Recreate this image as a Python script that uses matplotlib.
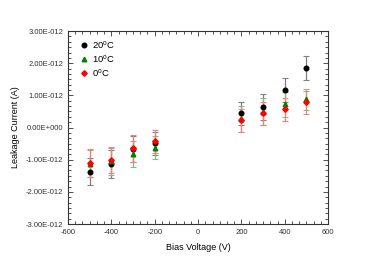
import matplotlib
matplotlib.use("Agg")
import matplotlib.pyplot as plt
from matplotlib.lines import Line2D
from matplotlib.ticker import AutoMinorLocator, FuncFormatter, MultipleLocator

plt.rcParams['font.family'] = ['Liberation Sans', 'DejaVu Sans']

voltage = [-500, -400, -300, -200, 200, 300, 400, 500]

# leakage current in units of 1e-12 A
i_20 = [-1.37, -1.14, -0.66, -0.49, 0.44, 0.63, 1.16, 1.86]
err_20 = [0.42, 0.44, 0.40, 0.36, 0.36, 0.40, 0.37, 0.37]
i_10 = [-1.13, -1.05, -0.83, -0.63, 0.26, 0.49, 0.73, 0.88]
err_10 = [0.42, 0.42, 0.41, 0.36, 0.40, 0.42, 0.39, 0.33]
i_0 = [-1.11, -1.01, -0.65, -0.42, 0.22, 0.44, 0.57, 0.78]
err_0 = [0.44, 0.41, 0.42, 0.36, 0.35, 0.36, 0.36, 0.37]

scale = 1e-12


def sci(v, pos):
    if abs(v) < 1e-20:
        return '0.00E+000'
    s = '%.2E' % v
    mant, exp = s.split('E')
    return '%sE%s%03d' % (mant, exp[0], abs(int(exp)))


fig = plt.figure(figsize=(3.82, 2.70), dpi=100)
ax = fig.add_axes([0.178, 0.170, 0.681, 0.715])

series = [
    (i_20, err_20, 'black', 'o', '20$^\\mathregular{o}$C', 'grey'),
    (i_10, err_10, 'green', '^', '10$^\\mathregular{o}$C', '#7fbf7f'),
    (i_0, err_0, 'red', 'D', '0$^\\mathregular{o}$C', '#f08080'),
]
handles = []
for vals, errs, col, mk, lab, ecol in series:
    ms = 2.8 if mk == 'D' else 3.3
    ax.errorbar(voltage, [v * scale for v in vals], yerr=[e * scale for e in errs],
                fmt=mk, color=col, markersize=ms,
                ecolor=ecol, elinewidth=0.9, capsize=2, capthick=0.8,
                linestyle='none')
    handles.append(Line2D([], [], marker=mk, color=col, linestyle='none',
                          markersize=ms, label=lab))

ax.set_xlim(-600, 600)
ax.set_ylim(-3e-12, 3e-12)
ax.xaxis.set_major_locator(MultipleLocator(200))
ax.xaxis.set_minor_locator(AutoMinorLocator(6))
ax.yaxis.set_major_locator(MultipleLocator(1e-12))
ax.yaxis.set_minor_locator(AutoMinorLocator(6))
ax.yaxis.set_major_formatter(FuncFormatter(sci))
ax.xaxis.set_major_formatter(FuncFormatter(lambda v, p: '%d' % v))

ax.tick_params(which='both', direction='in', top=True, right=True,
               labelsize=5.5, width=0.6, colors='#333333')
ax.tick_params(which='major', length=3.5)
ax.tick_params(which='minor', length=2)
for sp in ax.spines.values():
    sp.set_linewidth(0.8)
    sp.set_color('#333333')

ax.set_xlabel('Bias Voltage (V)', fontsize=6.5, labelpad=5)
ax.set_ylabel('Leakage Current (A)', fontsize=6.5, labelpad=4)

ax.legend(handles=handles, loc='upper left', frameon=False, fontsize=6.8,
          handletextpad=0.1, labelspacing=0.2, borderaxespad=0.45,
          handlelength=1.6)

fig.savefig('out.png', dpi=100)
